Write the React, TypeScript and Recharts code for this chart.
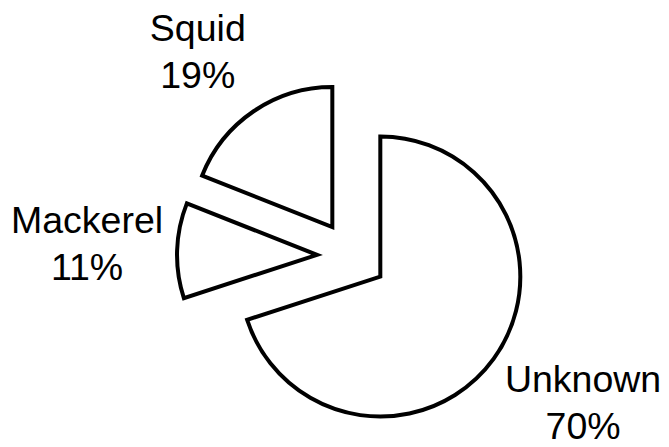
import { PieChart, Pie, Cell } from "recharts";

const names = ["Unknown", "Mackerel", "Squid"];
const shares = [70, 11, 19];

const data = names.map((name, i) => ({ name, value: shares[i] }));

const WIDTH = 669;
const HEIGHT = 447;
const CX = 352;
const CY = 256;
const RADIUS = 140;
const EXPLODE = 35;
const FONT = '"Liberation Sans", Arial, Helvetica, sans-serif';
const FONT_SIZE = 37.5;
const LINE = 47;
const RAD = Math.PI / 180;

const total = shares.reduce((a, b) => a + b, 0);

// mid angle of slice i, same convention as recharts (start at 90, clockwise)
function sliceMid(i: number) {
  const before = shares.slice(0, i).reduce((a, b) => a + b, 0);
  return 90 - (360 * (before + shares[i] / 2)) / total;
}

let ctx: CanvasRenderingContext2D | null = null;
function textWidth(s: string) {
  if (!ctx) ctx = document.createElement("canvas").getContext("2d");
  if (!ctx) return s.length * FONT_SIZE * 0.55;
  ctx.font = `${FONT_SIZE}px ${FONT}`;
  return ctx.measureText(s).width;
}

const makeLabel = (target: number) => (props: any) => {
  if (props.index !== target) return null;
  const { cx, cy, midAngle, outerRadius, name, percent } = props;
  const dx = Math.cos(-midAngle * RAD);
  const dy = Math.sin(-midAngle * RAD);
  const px = cx + outerRadius * 1.1 * dx;
  const py = cy + outerRadius * 1.1 * dy;
  const lines = [name, `${Math.round(percent * 100)}%`];
  const w = Math.max(...lines.map(textWidth));
  const mid = dx < 0 ? px - w / 2 : px + w / 2;
  const base = dy > 0.3 ? py + 25 : dy < -0.3 ? py - 12 - LINE : py - 17;
  return (
    <text fontFamily={FONT} fontSize={FONT_SIZE} textAnchor="middle" fill="#000">
      {lines.map((l, k) => (
        <tspan key={k} x={mid} y={base + k * LINE}>
          {l}
        </tspan>
      ))}
    </text>
  );
};

export default function App() {
  return (
    <div style={{ position: "absolute", left: 0, top: 0, width: WIDTH, height: HEIGHT, background: "#fff" }}>
      <PieChart width={WIDTH} height={HEIGHT} margin={{ top: 0, right: 0, bottom: 0, left: 0 }}>
        {/* one pie per slice so each can be pulled out along its own mid angle */}
        {names.map((n, target) => {
          const m = sliceMid(target);
          return (
            <Pie
              key={n}
              data={data}
              dataKey="value"
              nameKey="name"
              cx={CX + EXPLODE * Math.cos(-m * RAD)}
              cy={CY + EXPLODE * Math.sin(-m * RAD)}
              innerRadius={0}
              outerRadius={RADIUS}
              startAngle={90}
              endAngle={-270}
              label={makeLabel(target)}
              labelLine={false}
              isAnimationActive={false}
            >
              {data.map((d, i) => (
                <Cell
                  key={d.name}
                  fill={i === target ? "#fff" : "none"}
                  stroke={i === target ? "#000" : "none"}
                  strokeWidth={4}
                />
              ))}
            </Pie>
          );
        })}
      </PieChart>
    </div>
  );
}
